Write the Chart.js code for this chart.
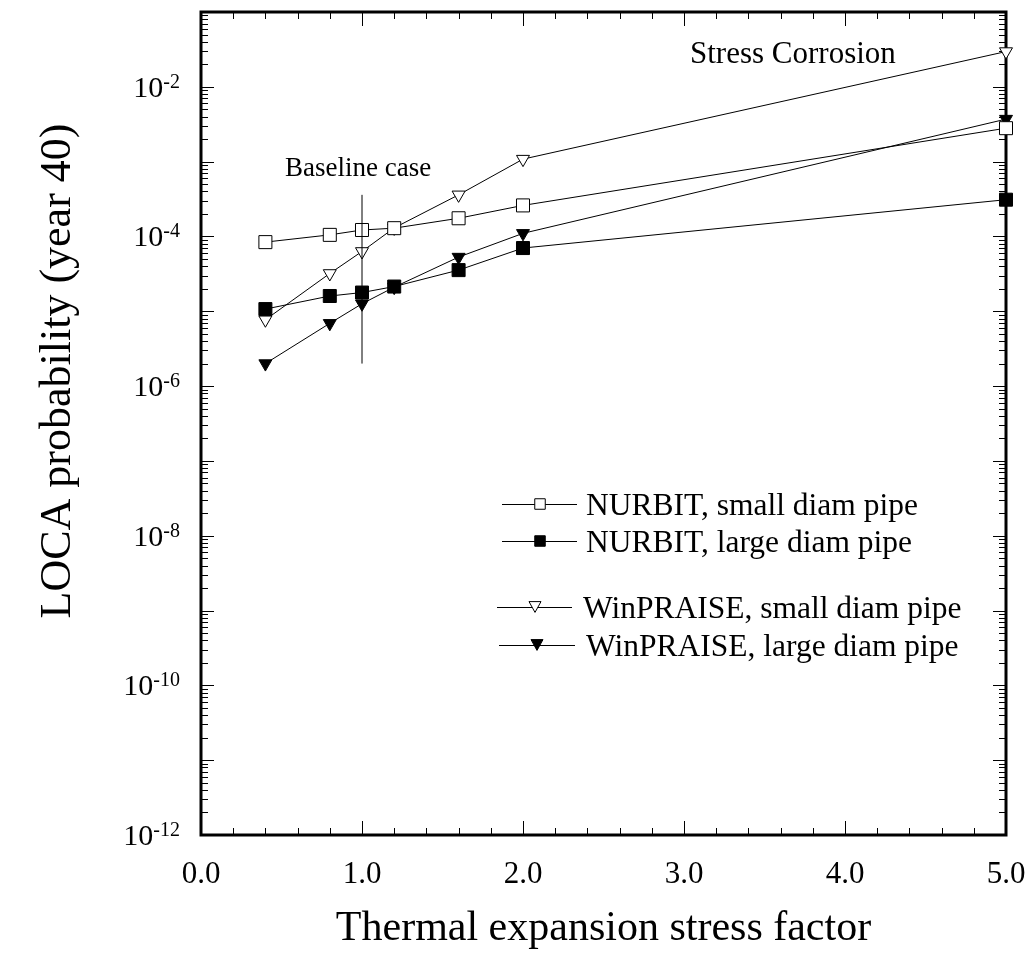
<!DOCTYPE html>
<html><head><meta charset="utf-8">
<script src="https://cdn.jsdelivr.net/npm/chart.js@4/dist/chart.umd.min.js"></script>
<style>html,body{margin:0;padding:0;background:#fff;overflow:hidden;} #wrap{width:1027px;height:958px;position:relative;}</style>
</head><body><div id="wrap"><canvas id="c" width="1027" height="958"></canvas></div>
<script>
// ---- data ----
const stressFactors = [0.4, 0.8, 1.0, 1.2, 1.6, 2.0, 5.0];
const nurbitSmall = [8.4e-5, 1.05e-4, 1.22e-4, 1.29e-4, 1.75e-4, 2.6e-4, 2.8e-3];
const nurbitLarge = [1.07e-5, 1.6e-5, 1.78e-5, 2.14e-5, 3.55e-5, 7.0e-5, 3.1e-4];
const winSmall = [7.7e-6, 3.2e-5, 6.3e-5, 1.3e-4, 3.6e-4, 1.08e-3, 2.96e-2];
const winLarge = [2.0e-6, 6.9e-6, 1.26e-5, 2.1e-5, 5.3e-5, 1.1e-4, 3.7e-3];
const baselineX = [1.0, 1.0];
const baselineRange = [2.0e-6, 3.6e-4];
const seriesLabels = ['NURBIT, small diam pipe', 'NURBIT, large diam pipe', 'WinPRAISE, small diam pipe', 'WinPRAISE, large diam pipe'];
const xTickValues = [0, 1, 2, 3, 4, 5];
const xTickLabels = ['0.0', '1.0', '2.0', '3.0', '4.0', '5.0'];
const yTickExponents = [-12, -10, -8, -6, -4, -2];
const annotationTexts = ['Baseline case', 'Stress Corrosion'];
const xTitle = 'Thermal expansion stress factor';
const yTitle = 'LOCA probability (year 40)';

const FONT = '"Liberation Serif", "Times New Roman", Times, serif';
const pts = (xs, ys) => xs.map((x, i) => ({x: x, y: ys[i]}));

function lineDs(label, values, style, filled) {
  return {
    label: label,
    data: pts(stressFactors, values),
    showLine: true,
    borderColor: '#000',
    borderWidth: 1,
    pointStyle: style,
    pointRotation: style === 'triangle' ? 180 : 0,
    pointRadius: style === 'triangle' ? 7.5 : 9.2,
    pointBackgroundColor: filled ? '#000' : '#fff',
    pointBorderColor: '#000',
    pointBorderWidth: 1,
    clip: false,
    _filled: filled
  };
}

const datasets = [
  {label: 'baseline', data: pts(baselineX, baselineRange), showLine: true, borderColor: '#000', borderWidth: 1, pointRadius: 0, clip: false},
  lineDs(seriesLabels[0], nurbitSmall, 'rect', false),
  lineDs(seriesLabels[1], nurbitLarge, 'rect', true),
  lineDs(seriesLabels[2], winSmall, 'triangle', false),
  lineDs(seriesLabels[3], winLarge, 'triangle', true)
];

function drawMarker(ctx, style, filled, x, y, size) {
  ctx.beginPath();
  if (style === 'rect') {
    ctx.rect(x - size / 2, y - size / 2, size, size);
  } else {
    const h = size * 0.9;
    ctx.moveTo(x - size / 2, y - h / 2);
    ctx.lineTo(x + size / 2, y - h / 2);
    ctx.lineTo(x, y + h / 2);
    ctx.closePath();
  }
  ctx.fillStyle = filled ? '#000' : '#fff';
  ctx.fill();
  ctx.lineWidth = 1;
  ctx.strokeStyle = '#000';
  ctx.stroke();
}

const decor = {
  id: 'decor',
  beforeDatasetsDraw(chart) {
    const {ctx, chartArea: a, scales: {x, y}} = chart;
    ctx.save();
    ctx.strokeStyle = '#000';
    ctx.lineWidth = 1;
    ctx.beginPath();
    for (let i = 0; i <= 25; i++) {
      const v = i * 0.2;
      const px = Math.round(x.getPixelForValue(v)) + 0.5;
      const len = (i % 5 === 0) ? 14 : 7;
      ctx.moveTo(px, a.bottom); ctx.lineTo(px, a.bottom - len);
      ctx.moveTo(px, a.top); ctx.lineTo(px, a.top + len);
    }
    for (let e = -12; e <= -1; e++) {
      for (let m = 1; m <= 9; m++) {
        if (e === -1 && m > 1) break;
        const v = m * Math.pow(10, e);
        const py = Math.round(y.getPixelForValue(v)) + 0.5;
        const len = m === 1 ? 13 : 7;
        ctx.moveTo(a.left, py); ctx.lineTo(a.left + len, py);
        ctx.moveTo(a.right, py); ctx.lineTo(a.right - len, py);
      }
    }
    ctx.stroke();
    ctx.lineWidth = 3;
    ctx.strokeRect(a.left, a.top, a.right - a.left, a.bottom - a.top);
    ctx.restore();
  },
  afterDraw(chart) {
    const {ctx, chartArea: a, scales: {x, y}} = chart;
    ctx.save();
    ctx.fillStyle = '#000';
    ctx.font = '31px ' + FONT;
    ctx.textAlign = 'center';
    ctx.textBaseline = 'alphabetic';
    xTickValues.forEach((v, i) => {
      ctx.fillText(xTickLabels[i], x.getPixelForValue(v), a.bottom + 48);
    });
    yTickExponents.forEach(e => {
      const py = y.getPixelForValue(Math.pow(10, e));
      const expStr = String(e);
      ctx.font = '20px ' + FONT;
      const we = ctx.measureText(expStr).width;
      ctx.font = '30px ' + FONT;
      const wb = ctx.measureText('10').width;
      const right = a.left - 21;
      ctx.textAlign = 'left';
      ctx.fillText('10', right - we - wb, py + 10);
      ctx.font = '20px ' + FONT;
      ctx.fillText(expStr, right - we, py + 1);
    });
    ctx.font = '42px ' + FONT;
    ctx.textAlign = 'center';
    ctx.fillText(xTitle, (a.left + a.right) / 2, 940);
    ctx.save();
    ctx.translate(70, 371);
    ctx.rotate(-Math.PI / 2);
    ctx.font = '44px ' + FONT;
    ctx.fillText(yTitle, 0, 0);
    ctx.restore();
    ctx.textAlign = 'left';
    ctx.font = '27px ' + FONT;
    ctx.fillText(annotationTexts[0], 285, 176);
    ctx.font = '31px ' + FONT;
    ctx.fillText(annotationTexts[1], 690, 63);
    const rows = [
      {ds: 1, y: 504, x0: 502, x1: 577, mx: 540, tx: 586, size: 10.5},
      {ds: 2, y: 541, x0: 502, x1: 577, mx: 540, tx: 586, size: 10.5},
      {ds: 3, y: 607, x0: 497, x1: 572, mx: 535, tx: 583, size: 12},
      {ds: 4, y: 645, x0: 499, x1: 575, mx: 537, tx: 586, size: 12}
    ];
    rows.forEach(r => {
      const d = chart.data.datasets[r.ds];
      ctx.strokeStyle = '#000';
      ctx.lineWidth = 1;
      ctx.beginPath();
      ctx.moveTo(r.x0, r.y + 0.5); ctx.lineTo(r.x1, r.y + 0.5);
      ctx.stroke();
      drawMarker(ctx, d.pointStyle, d._filled, r.mx, r.y, r.size);
      ctx.fillStyle = '#000';
      ctx.font = '31.5px ' + FONT;
      ctx.textAlign = 'left';
      ctx.fillText(d.label, r.tx, r.y + 11);
    });
    ctx.restore();
  }
};

new Chart(document.getElementById('c'), {
  type: 'scatter',
  data: {datasets: datasets},
  options: {
    responsive: false,
    animation: false,
    layout: {padding: {left: 201, right: 21, top: 12, bottom: 123}},
    scales: {
      x: {type: 'linear', min: 0, max: 5, display: false},
      y: {type: 'logarithmic', min: 1e-12, max: 1e-1, display: false}
    },
    plugins: {legend: {display: false}, tooltip: {enabled: false}}
  },
  plugins: [decor]
});
</script>
</body></html>
